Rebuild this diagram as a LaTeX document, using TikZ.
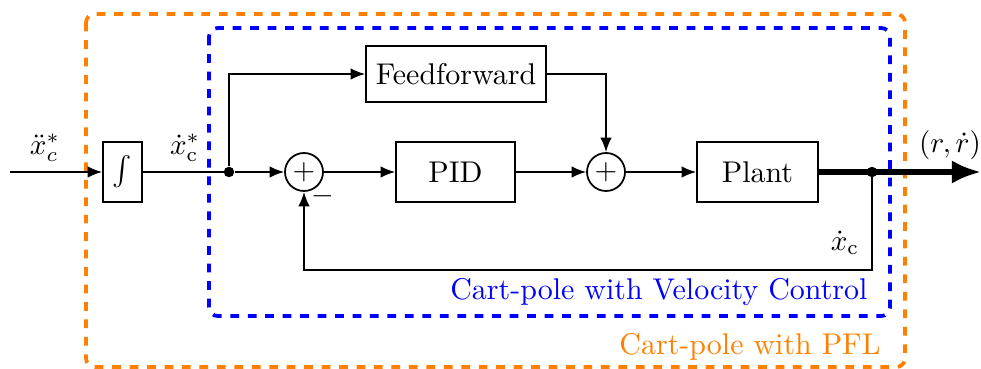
\documentclass[tikz,border=0pt]{standalone}
\usetikzlibrary{arrows.meta}
\definecolor{pflorange}{RGB}{255,128,0}
\definecolor{velblue}{RGB}{0,0,255}
\def\u{0.3437pt}
\begin{document}
\begin{tikzpicture}[x=\u, y=-\u,
  every node/.style={font=\fontsize{10.3}{12.4}\selectfont},
  blk/.style={draw, semithick, minimum height={60*\u}, inner sep=0pt},
  sumnode/.style={draw, semithick, circle, minimum size={38*\u}, inner sep=0pt},
  sig/.style={semithick, -{Latex[length=5pt,width=4pt]}},
  wire/.style={semithick},
  dot/.style={circle, fill, inner sep=0pt, minimum size=3.6pt},
  lbl/.style={inner sep=1pt}]
\useasboundingbox (0,0) rectangle (981,369);

% enclosing regions
\draw[pflorange, line width=1.3pt, dash pattern=on 3pt off 3pt, rounded corners=3pt]
  (86,14) rectangle (905,367);
\draw[velblue, line width=1.3pt, dash pattern=on 3pt off 3pt, rounded corners=3pt]
  (209,28) rectangle (890,316);

% blocks
\node[blk, minimum width={39*\u}] (int) at (122.5,172) {$\int$};
\node[blk, minimum width={180*\u}, minimum height={56*\u}] (ff) at (456,74) {Feedforward};
\node[blk, minimum width={119*\u}] (pid) at (455.5,172) {PID};
\node[blk, minimum width={121*\u}] (plant) at (757.5,172) {Plant};
\node[sumnode] (s1) at (304,172) {$+$};
\node[sumnode] (s2) at (606,172) {$+$};

% junctions and free ends
\coordinate (in) at (10,172);
\node[dot] (j1) at (229,172) {};
\node[dot] (j2) at (872,172) {};
\coordinate (out) at (981,172);

% signal paths
\draw[sig] (in) -- (int);
\draw[wire] (int) -- (j1.center);
\draw[sig] (j1) -- (s1);
\draw[sig] (j1) |- (ff);
\draw[sig] (ff.east) -| (s2);
\draw[sig] (s1) -- (pid);
\draw[sig] (pid) -- (s2);
\draw[sig] (s2) -- (plant);
\draw[line width=1.8pt] (plant) -- (j2.center);
\draw[line width=1.8pt, -{Latex[length=10pt,width=8pt]}] (j2.center) -- (out);
\draw[sig] (j2.center) |- (s1 |- 0,270) -- (s1);

% labels
\node[lbl] at (45,148) {$\ddot{x}_c^{*}$};
\node[lbl] at (185,148) {$\dot{x}_\mathrm{c}^{*}$};
\node[lbl] at (323,196) {$-$};
\node[lbl] at (845,243) {$\dot{x}_\mathrm{c}$};
\node[lbl] at (950,145) {$(r,\dot{r})$};
\node[lbl, velblue, anchor=east] at (871,292) {Cart-pole with Velocity Control};
\node[lbl, pflorange, anchor=east] at (884,347) {Cart-pole with PFL};
\end{tikzpicture}
\end{document}
